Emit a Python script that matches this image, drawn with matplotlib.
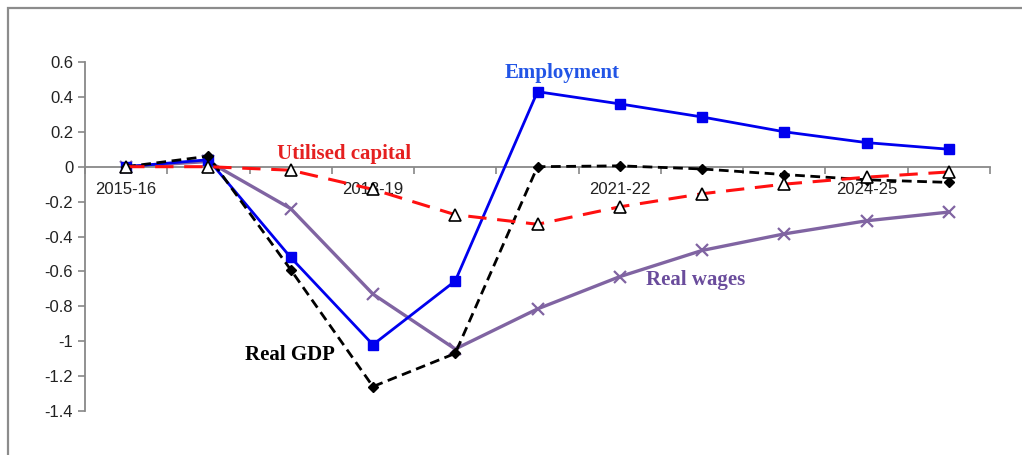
import numpy as np
import matplotlib.pyplot as plt
from matplotlib.patches import Rectangle

# Deviation from baseline, per cent
years = ['2015-16', '2016-17', '2017-18', '2018-19', '2019-20', '2020-21',
         '2021-22', '2022-23', '2023-24', '2024-25', '2025-26']
real_gdp = [0.0, 0.06, -0.59, -1.26, -1.07, 0.0, 0.005, -0.013, -0.045, -0.075, -0.09]
employment = [0.0, 0.04, -0.52, -1.02, -0.655, 0.43, 0.36, 0.285, 0.20, 0.138, 0.10]
utilised_capital = [0.0, 0.0, -0.02, -0.13, -0.275, -0.33, -0.23, -0.155, -0.10, -0.06, -0.03]
real_wages = [0.0, 0.03, -0.24, -0.73, -1.045, -0.815, -0.63, -0.48, -0.385, -0.31, -0.26]
shown_years = ['2015-16', '2018-19', '2021-22', '2024-25']

plt.rcParams['font.family'] = ['Liberation Sans', 'DejaVu Sans']

fig = plt.figure(figsize=(10.22, 4.55), dpi=100)
ax = fig.add_axes([85 / 1022, 1 - 411 / 455, 905 / 1022, 349 / 455])

# grey chart frame, cut off at the right and bottom
fig.patches.append(Rectangle((8 / 1022, -0.2), 1.2, 1 - 8 / 455 + 0.2,
                             transform=fig.transFigure, fill=False,
                             edgecolor='#8c8c8c', linewidth=1.6))

x = np.arange(len(years))

ax.plot(x, real_wages, color='#8064a2', lw=2.4, marker='x', ms=8, mew=1.6, zorder=2)
ax.plot(x, employment, color='#0000ee', lw=2.0, marker='s', ms=7, zorder=3)
ax.plot(x, real_gdp, color='black', lw=2.0, ls=(0, (3.5, 2)), marker='D', ms=5.5, zorder=4)
ax.plot(x, utilised_capital, color='#ff1010', lw=2.2, ls=(0, (6, 3.5)), marker='^', ms=8.5,
        mfc='white', mec='black', mew=1.2, zorder=5)

ax.set_xlim(-0.5, len(years) - 0.5)
ax.set_ylim(-1.4, 0.6)
yticks = np.arange(-1.4, 0.61, 0.2)
ax.set_yticks(yticks)
ax.set_yticklabels(['0' if abs(v) < 1e-9 else f'{v:g}' for v in yticks])

for s in ['top', 'right']:
    ax.spines[s].set_visible(False)
ax.spines['bottom'].set_position(('data', 0))
for s in ['left', 'bottom']:
    ax.spines[s].set_color('#888888')
    ax.spines[s].set_linewidth(1.3)

ax.set_xticks([years.index(y) for y in shown_years])
ax.set_xticklabels(shown_years)
ax.set_xticks(np.arange(-0.5, len(years), 1.0), minor=True)
ax.tick_params(axis='x', which='major', length=0, pad=11, labelsize=12, labelcolor='#222222')
ax.tick_params(axis='x', which='minor', length=5, direction='out', color='#888888', width=1.2)
ax.tick_params(axis='y', length=5, direction='out', color='#888888', width=1.2,
               labelsize=12, labelcolor='#222222')

serif = ['Liberation Serif', 'DejaVu Serif']
ax.text(5.3, 0.535, 'Employment', color='#2255e6', fontsize=15, fontweight='bold',
        family=serif, ha='center', va='center')
ax.text(2.65, 0.07, 'Utilised capital', color='#e52020', fontsize=15, fontweight='bold',
        family=serif, ha='center', va='center')
ax.text(1.99, -1.08, 'Real GDP', color='black', fontsize=15, fontweight='bold',
        family=serif, ha='center', va='center')
ax.text(6.92, -0.65, 'Real wages', color='#6a4c9c', fontsize=15, fontweight='bold',
        family=serif, ha='center', va='center')

fig.savefig('out.png', dpi=100)
